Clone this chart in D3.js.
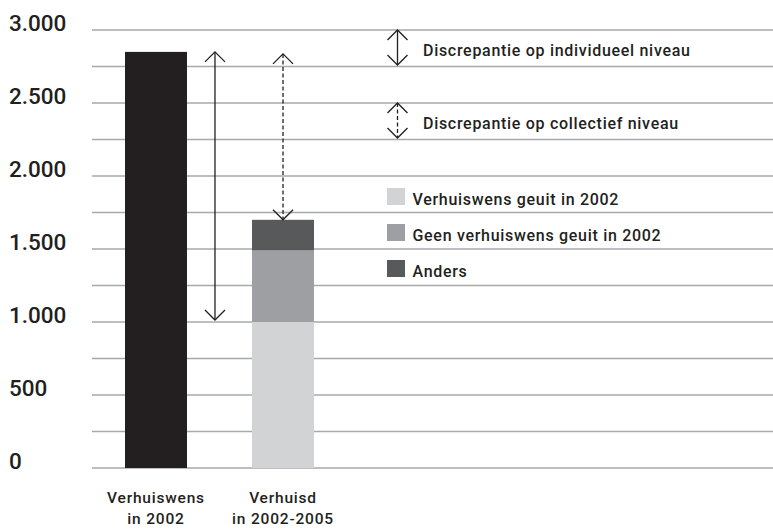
<!DOCTYPE html>
<html>
<head>
<meta charset="utf-8">
<script src="https://cdn.jsdelivr.net/npm/d3@7"></script>
<style>
  body { margin: 0; background: #fff; }
  text { font-family: Roboto, "DejaVu Sans", sans-serif; fill: #231f20; font-weight: 500; }
</style>
</head>
<body>
<div id="chart"></div>
<script>
// data
var categories = ["Verhuiswens in 2002", "Verhuisd in 2002-2005"];
var catLines = [["Verhuiswens", "in 2002"], ["Verhuisd", "in 2002-2005"]];
var wens2002 = [2850, 0];
var geuit = [0, 1000];
var geenWens = [0, 490];
var anders = [0, 210];
var yTicks = [0, 500, 1000, 1500, 2000, 2500, 3000];
var gridTicks = [0, 250, 500, 750, 1000, 1250, 1500, 1750, 2000, 2250, 2500, 2750, 3000];
var legendNames = ["Verhuiswens geuit in 2002", "Geen verhuiswens geuit in 2002", "Anders"];
var arrowNames = ["Discrepantie op individueel niveau", "Discrepantie op collectief niveau"];

var width = 773, height = 529;
var keys = ["wens", "geuit", "geen", "anders"];
var colors = {wens: "#231f20", geuit: "#d1d3d4", geen: "#9d9fa2", anders: "#58595b"};
var ink = "#231f20";

var rows = categories.map(function(c, i) {
  return {cat: c, wens: wens2002[i], geuit: geuit[i], geen: geenWens[i], anders: anders[i]};
});

var svg = d3.select("#chart").append("svg")
  .attr("width", width).attr("height", height);

var y = d3.scaleLinear().domain([0, 3000]).range([468, 30]);
var x = d3.scaleBand().domain(categories).range([125, 314])
  .paddingInner(0.512).paddingOuter(0);

// grid
svg.append("g").selectAll("line").data(gridTicks).join("line")
  .attr("x1", 92).attr("x2", width)
  .attr("y1", function(d){ return y(d); }).attr("y2", function(d){ return y(d); })
  .attr("stroke", "#a7a9ac").attr("stroke-width", 1.5);

// y labels
var fmt = d3.formatLocale({decimal: ",", thousands: ".", grouping: [3], currency: ["", ""]}).format(",");
svg.append("g").selectAll("text").data(yTicks).join("text")
  .attr("x", 9).attr("y", function(d){ return y(d) + 1; })
  .attr("font-size", 22.5)
  .text(function(d){ return fmt(d); });

// bars
var stacked = d3.stack().keys(keys)(rows);
svg.append("g").selectAll("g").data(stacked).join("g")
  .attr("fill", function(d){ return colors[d.key]; })
  .selectAll("rect").data(function(d){ return d; }).join("rect")
  .attr("x", function(d){ return x(d.data.cat); })
  .attr("width", x.bandwidth())
  .attr("y", function(d){ return y(d[1]); })
  .attr("height", function(d){ return y(d[0]) - y(d[1]); });

// x labels
catLines.forEach(function(lines, i) {
  var cx = x(categories[i]) + x.bandwidth() / 2;
  svg.append("text").attr("x", cx).attr("y", 503).attr("text-anchor", "middle")
    .attr("font-size", 15.5).attr("letter-spacing", 0.8).text(lines[0]);
  svg.append("text").attr("x", cx).attr("y", 524).attr("text-anchor", "middle")
    .attr("font-size", 15.5).attr("letter-spacing", 0.8).text(lines[1]);
});

// double-headed arrow
function arrow(g, cx, yTop, yBot, dashed) {
  g.append("line").attr("x1", cx).attr("x2", cx).attr("y1", yTop).attr("y2", yBot)
    .attr("stroke", ink).attr("stroke-width", 1.3)
    .attr("stroke-dasharray", dashed ? "4 2.5" : null);
  var h = 10, w = 10;
  g.append("path").attr("d", d3.line()([[cx - w, yTop + h], [cx, yTop], [cx + w, yTop + h]]))
    .attr("fill", "none").attr("stroke", ink).attr("stroke-width", 1.3);
  g.append("path").attr("d", d3.line()([[cx - w, yBot - h], [cx, yBot], [cx + w, yBot - h]]))
    .attr("fill", "none").attr("stroke", ink).attr("stroke-width", 1.3);
}

var total2 = geuit[1] + geenWens[1] + anders[1];
var ag = svg.append("g");
arrow(ag, x(categories[0]) + x.bandwidth() + 28, y(wens2002[0]), y(geuit[1]) - 2, false);
arrow(ag, x(categories[1]) + x.bandwidth() / 2, y(wens2002[0]) + 2, y(total2), true);

// legend: arrows
arrowNames.forEach(function(n, i) {
  var top = i === 0 ? 30 : 103;
  arrow(ag, 397.5, top, top + 35, i === 1);
  svg.append("text").attr("x", 423).attr("y", top + 26)
    .attr("font-size", 16).attr("letter-spacing", 0.7).text(n);
});

// legend: swatches
legendNames.forEach(function(n, i) {
  var base = 205 + i * 36;
  svg.append("rect").attr("x", 387).attr("y", base - 17).attr("width", 18).attr("height", 17)
    .attr("fill", colors[keys[i + 1]]);
  svg.append("text").attr("x", 412.5).attr("y", base).attr("font-size", 16)
    .attr("letter-spacing", 0.7).text(n);
});
</script>
</body>
</html>
